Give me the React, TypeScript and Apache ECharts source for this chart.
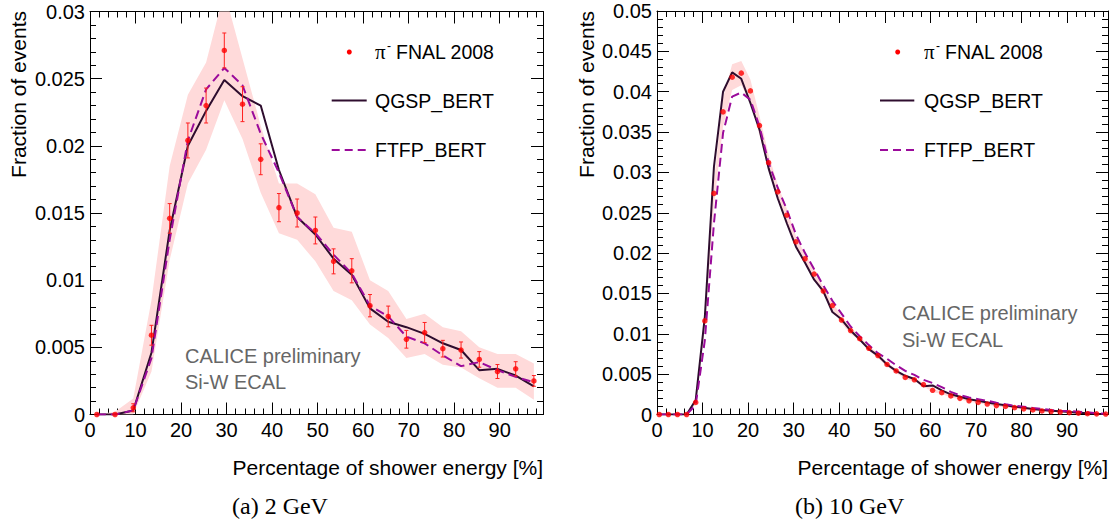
import React, { useEffect, useRef } from 'react';
import * as echarts from 'echarts';

// ---------- Left panel (2 GeV) ----------
const leftX = [1.5, 5.5, 9.5, 13.5, 17.5, 21.5, 25.5, 29.5, 33.5, 37.5, 41.5, 45.5, 49.5, 53.5, 57.5, 61.5, 65.5, 69.5, 73.5, 77.5, 81.5, 85.5, 89.5, 93.5, 97.5];
const leftData = [0, 0, 0.0005, 0.0059, 0.0146, 0.0204, 0.023, 0.0271, 0.0231, 0.019, 0.0154, 0.015, 0.0137, 0.0114, 0.0107, 0.0081, 0.0073, 0.0056, 0.0061, 0.0049, 0.0048, 0.0041, 0.0032, 0.0034, 0.0025];
const leftErr = [0, 0, 0.0003, 0.00074, 0.0011, 0.0013, 0.0013, 0.0013, 0.0013, 0.00115, 0.00105, 0.00104, 0.001, 0.00093, 0.0009, 0.00083, 0.00077, 0.00066, 0.00075, 0.00062, 0.0006, 0.00058, 0.00052, 0.00053, 0.0004];
const leftBandLow = [0, 0, 0, 0.0032, 0.0115, 0.0172, 0.0197, 0.0234, 0.0205, 0.0165, 0.0135, 0.013, 0.0114, 0.0092, 0.0085, 0.0067, 0.0057, 0.0042, 0.0045, 0.0037, 0.0035, 0.0027, 0.002, 0.002, 0.0011];
const leftBandHigh = [0, 0.0002, 0.0012, 0.0085, 0.0185, 0.0238, 0.0262, 0.0315, 0.0265, 0.0215, 0.0172, 0.0172, 0.0164, 0.0139, 0.0136, 0.01, 0.0092, 0.0071, 0.0075, 0.0065, 0.0062, 0.005, 0.0045, 0.0045, 0.0038];
const leftQGSP = [0, 0, 0.0003, 0.0046, 0.0137, 0.02, 0.0226, 0.0249, 0.0237, 0.023, 0.0182, 0.0147, 0.0134, 0.0116, 0.0104, 0.0079, 0.0069, 0.0065, 0.006, 0.0053, 0.0048, 0.0033, 0.0034, 0.0029, 0.0021];
const leftFTFP = [0, 0, 0.0003, 0.0042, 0.013, 0.0204, 0.0242, 0.0258, 0.0245, 0.0209, 0.018, 0.0147, 0.0135, 0.0119, 0.0105, 0.0081, 0.0073, 0.0058, 0.0053, 0.0044, 0.0036, 0.0039, 0.0033, 0.0028, 0.0024];

// ---------- Right panel (10 GeV) ----------
const rightX = [0.5, 2.5, 4.5, 6.5, 8.5, 10.5, 12.5, 14.5, 16.5, 18.5, 20.5, 22.5, 24.5, 26.5, 28.5, 30.5, 32.5, 34.5, 36.5, 38.5, 40.5, 42.5, 44.5, 46.5, 48.5, 50.5, 52.5, 54.5, 56.5, 58.5, 60.5, 62.5, 64.5, 66.5, 68.5, 70.5, 72.5, 74.5, 76.5, 78.5, 80.5, 82.5, 84.5, 86.5, 88.5, 90.5, 92.5, 94.5, 96.5, 98.5];
const rightData = [0, 0, 0, 0, 0.0015, 0.0116, 0.0274, 0.0375, 0.0418, 0.0423, 0.0401, 0.0358, 0.0312, 0.0276, 0.0247, 0.0214, 0.0193, 0.0174, 0.0153, 0.0135, 0.0117, 0.0104, 0.0094, 0.0082, 0.0073, 0.0062, 0.0054, 0.0046, 0.0043, 0.0037, 0.003, 0.0027, 0.0023, 0.002, 0.0017, 0.0015, 0.0013, 0.0011, 0.001, 0.00085, 0.0007, 0.00056, 0.00044, 0.00037, 0.00031, 0.00023, 0.00016, 0.0001, 0.00008, 0.00006];
const rightBandHalf = [0, 0, 0, 0, 0.0003, 0.001, 0.0015, 0.0018, 0.0016, 0.0015, 0.0014, 0.0012, 0.001, 0.0009, 0.0008, 0.0007, 0.0006, 0.0006, 0.0005, 0.0005, 0.0004, 0.0004, 0.0003, 0.0003, 0.0003, 0.00025, 0.00025, 0.0002, 0.0002, 0.0002, 0.0002, 0.00015, 0.00015, 0.00015, 0.00012, 0.00012, 0.0001, 0.0001, 0.0001, 0.0001, 0.00008, 0.00008, 0.00006, 0.00006, 0.00005, 0.00005, 0.00004, 0.00004, 0.00003, 0.00003];
const rightQGSP = [0, 0, 0, 0, 0.0018, 0.0121, 0.0307, 0.04, 0.0424, 0.0416, 0.0386, 0.0353, 0.0305, 0.0268, 0.0237, 0.0208, 0.0188, 0.0167, 0.0153, 0.0127, 0.0118, 0.0104, 0.0093, 0.0081, 0.0073, 0.0062, 0.0054, 0.0048, 0.0044, 0.0035, 0.0036, 0.003, 0.0025, 0.0022, 0.0019, 0.0017, 0.0015, 0.0013, 0.00114, 0.00097, 0.00085, 0.00068, 0.00056, 0.00047, 0.0004, 0.00031, 0.00023, 0.00015, 0.0001, 0.00006];
const rightFTFP = [0, 0, 0, 0, 0.0012, 0.0092, 0.0237, 0.0349, 0.0394, 0.0399, 0.039, 0.0357, 0.0312, 0.0281, 0.0254, 0.0223, 0.02, 0.018, 0.016, 0.0141, 0.0125, 0.0109, 0.0097, 0.0086, 0.0076, 0.0069, 0.0061, 0.0054, 0.0049, 0.0043, 0.0039, 0.0034, 0.0028, 0.0024, 0.0021, 0.0019, 0.0017, 0.00146, 0.00126, 0.00109, 0.00097, 0.0008, 0.00068, 0.00056, 0.00047, 0.00043, 0.00035, 0.00027, 0.00015, 0.0001];

const seriesNames = ['FNAL 2008', 'QGSP_BERT', 'FTFP_BERT'];
const xTitle = 'Percentage of shower energy [%]';
const yTitle = 'Fraction of events';
const captions = ['(a) 2 GeV', '(b) 10 GeV'];
const watermark = ['CALICE preliminary', 'Si-W ECAL'];

const SANS = '"Liberation Sans", Arial, Helvetica, sans-serif';
const SERIF = '"Liberation Serif", "Times New Roman", serif';
const QG_COLOR = '#2e0d2e';
const FT_COLOR = '#9b0b9b';
const BAND_COLOR = '#ffdada';

function makeAxes(gridIndex: number, xMax: number, yMax: number) {
  const tick = { show: true, inside: true, length: 12, lineStyle: { color: '#000', width: 1 } };
  const minor = { show: true, splitNumber: 5, length: 6, lineStyle: { color: '#000', width: 1 } };
  const line = { show: true, onZero: false, lineStyle: { color: '#000', width: 1 } };
  const xs = [
    {
      gridIndex, type: 'value', position: 'bottom', min: 0, max: xMax, interval: 10,
      axisLine: line, axisTick: tick, minorTick: minor, splitLine: { show: false },
      axisLabel: { show: true, fontSize: 20, fontFamily: SANS, color: '#000', margin: 5, showMaxLabel: false },
    },
    {
      gridIndex, type: 'value', position: 'top', min: 0, max: xMax, interval: 10,
      axisLine: line, axisTick: tick, minorTick: minor, splitLine: { show: false },
      axisLabel: { show: false },
    },
  ];
  const ys = [
    {
      gridIndex, type: 'value', position: 'left', min: 0, max: yMax, interval: 0.005,
      axisLine: line, axisTick: tick, minorTick: minor, splitLine: { show: false },
      axisLabel: { show: true, fontSize: 20, fontFamily: SANS, color: '#000', margin: 5 },
    },
    {
      gridIndex, type: 'value', position: 'right', min: 0, max: yMax, interval: 0.005,
      axisLine: line, axisTick: tick, minorTick: minor, splitLine: { show: false },
      axisLabel: { show: false },
    },
  ];
  return { xs, ys };
}

function bandSeries(xs: number[], lo: number[], hi: number[], axisIdx: number) {
  return {
    type: 'custom', xAxisIndex: axisIdx, yAxisIndex: axisIdx, clip: true, silent: true, z: 1,
    data: xs.map((x, i) => [x, lo[i], hi[i]]),
    encode: { x: 0, y: [1, 2] },
    renderItem: (params: any, api: any) => {
      if (params.dataIndex !== 0) return null;
      const pts: number[][] = [];
      for (let i = 0; i < xs.length; i++) pts.push(api.coord([xs[i], hi[i]]));
      for (let i = xs.length - 1; i >= 0; i--) pts.push(api.coord([xs[i], lo[i]]));
      return { type: 'polygon', shape: { points: pts }, style: { fill: BAND_COLOR } };
    },
  };
}

function errorSeries(xs: number[], ys: number[], es: number[], axisIdx: number) {
  return {
    type: 'custom', xAxisIndex: axisIdx, yAxisIndex: axisIdx, silent: true, z: 4,
    data: xs.map((x, i) => [x, ys[i], es[i]]),
    encode: { x: 0, y: 1 },
    renderItem: (params: any, api: any) => {
      const x = api.value(0);
      const y = api.value(1);
      const e = api.value(2);
      if (!(e > 0)) return null;
      const top = api.coord([x, y + e]);
      const bot = api.coord([x, y - e]);
      const hw = 2;
      const style = { stroke: '#ff2020', lineWidth: 1 };
      return {
        type: 'group',
        children: [
          { type: 'line', shape: { x1: top[0], y1: top[1], x2: bot[0], y2: bot[1] }, style },
          { type: 'line', shape: { x1: top[0] - hw, y1: top[1], x2: top[0] + hw, y2: top[1] }, style },
          { type: 'line', shape: { x1: bot[0] - hw, y1: bot[1], x2: bot[0] + hw, y2: bot[1] }, style },
        ],
      };
    },
  };
}

function panelSeries(xs: number[], data: number[], qg: number[], ft: number[], axisIdx: number) {
  return [
    {
      name: seriesNames[1], type: 'line', xAxisIndex: axisIdx, yAxisIndex: axisIdx, z: 3,
      data: xs.map((x, i) => [x, qg[i]]), showSymbol: false, symbol: 'none', clip: true,
      lineStyle: { color: QG_COLOR, width: 2 },
    },
    {
      name: seriesNames[2], type: 'line', xAxisIndex: axisIdx, yAxisIndex: axisIdx, z: 3,
      data: xs.map((x, i) => [x, ft[i]]), showSymbol: false, symbol: 'none', clip: true,
      lineStyle: { color: FT_COLOR, width: 2, type: [9, 5] },
    },
    {
      name: seriesNames[0], type: 'scatter', xAxisIndex: axisIdx, yAxisIndex: axisIdx, z: 5,
      data: xs.map((x, i) => [x, data[i]]), symbol: 'circle', symbolSize: 5.5,
      itemStyle: { color: '#ff0000' },
    },
  ];
}

function legendGraphics(dotX: number, lineX1: number, lineX2: number, textX: number) {
  const rows = [52, 100.5, 150];
  const font = '19.5px ' + SANS;
  return [
    { type: 'circle', shape: { cx: dotX, cy: rows[0], r: 2.5 }, style: { fill: '#ff0000' } },
    { type: 'text', x: textX, y: rows[0], style: { text: 'π', font: '21px ' + SERIF, fill: '#000', textAlign: 'left', textVerticalAlign: 'middle', align: 'left', verticalAlign: 'middle' } },
    { type: 'text', x: textX + 12, y: rows[0] - 6, style: { text: '-', font: '12px ' + SANS, fill: '#000', textAlign: 'left', textVerticalAlign: 'middle', align: 'left', verticalAlign: 'middle' } },
    { type: 'text', x: textX + 21, y: rows[0], style: { text: seriesNames[0], font, fill: '#000', textAlign: 'left', textVerticalAlign: 'middle', align: 'left', verticalAlign: 'middle' } },
    { type: 'line', shape: { x1: lineX1, y1: rows[1], x2: lineX2, y2: rows[1] }, style: { stroke: QG_COLOR, lineWidth: 2 } },
    { type: 'text', x: textX, y: rows[1], style: { text: seriesNames[1], font, fill: '#000', textAlign: 'left', textVerticalAlign: 'middle', align: 'left', verticalAlign: 'middle' } },
    { type: 'line', shape: { x1: lineX1, y1: rows[2], x2: lineX2, y2: rows[2] }, style: { stroke: FT_COLOR, lineWidth: 2, lineDash: [8, 5] } },
    { type: 'text', x: textX, y: rows[2], style: { text: seriesNames[2], font, fill: '#000', textAlign: 'left', textVerticalAlign: 'middle', align: 'left', verticalAlign: 'middle' } },
  ];
}

function textEl(x: number, y: number, text: string, font: string, align: string, fill = '#000', rotation = 0) {
  return {
    type: 'text', x, y, rotation,
    style: { text, font, fill, textAlign: align, textVerticalAlign: 'middle', align, verticalAlign: 'middle' },
  };
}

export default function App() {
  const ref = useRef<HTMLDivElement>(null);
  useEffect(() => {
    if (!ref.current) return;
    const chart = echarts.init(ref.current, undefined, { renderer: 'svg' });
    const a0 = makeAxes(0, 99.5, 0.03);
    const a1 = makeAxes(1, 99, 0.05);
    const rightLo = rightData.map((v, i) => v - rightBandHalf[i]);
    const rightHi = rightData.map((v, i) => v + rightBandHalf[i]);
    const option: any = {
      animation: false,
      backgroundColor: '#fff',
      grid: [
        { left: 90, top: 11.5, width: 453, height: 403 },
        { left: 657, top: 11, width: 451, height: 403.5 },
      ],
      xAxis: [a0.xs[0], a0.xs[1], a1.xs[0], a1.xs[1]],
      yAxis: [a0.ys[0], a0.ys[1], a1.ys[0], a1.ys[1]],
      series: [
        bandSeries(leftX, leftBandLow, leftBandHigh, 0),
        ...panelSeries(leftX, leftData, leftQGSP, leftFTFP, 0),
        errorSeries(leftX, leftData, leftErr, 0),
        bandSeries(rightX, rightLo, rightHi, 2),
        ...panelSeries(rightX, rightData, rightQGSP, rightFTFP, 2),
      ],
      graphic: [
        textEl(18, 11, yTitle, '21px ' + SANS, 'right', '#000', Math.PI / 2),
        textEl(586, 11, yTitle, '21px ' + SANS, 'right', '#000', Math.PI / 2),
        textEl(543, 467, xTitle, '21px ' + SANS, 'right'),
        textEl(1108, 467, xTitle, '21px ' + SANS, 'right'),
        textEl(185, 356, watermark[0], '20px ' + SANS, 'left', '#666'),
        textEl(185, 382, watermark[1], '20px ' + SANS, 'left', '#666'),
        textEl(902, 313, watermark[0], '20px ' + SANS, 'left', '#666'),
        textEl(902, 340, watermark[1], '20px ' + SANS, 'left', '#666'),
        textEl(232, 506, captions[0], '24px ' + SERIF, 'left'),
        textEl(795, 506, captions[1], '24px ' + SERIF, 'left'),
        ...legendGraphics(349.3, 331.7, 366.7, 375),
        ...legendGraphics(897.7, 880, 914.3, 924),
      ],
    };
    chart.setOption(option);
    return () => chart.dispose();
  }, []);
  return <div ref={ref} style={{ position: 'fixed', left: 0, top: 0, width: 1116, height: 522, background: '#fff' }} />;
}
